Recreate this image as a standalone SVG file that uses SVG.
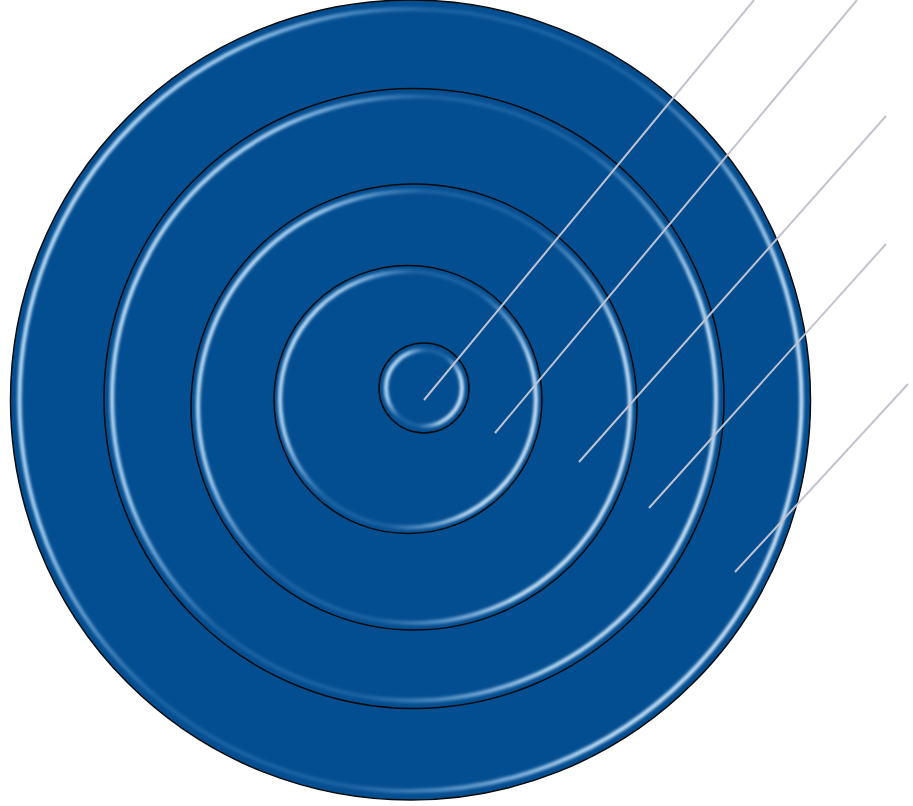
<svg xmlns="http://www.w3.org/2000/svg" width="913" height="806" viewBox="0 0 913 806">
<defs>
<style>
.disc{fill:#034e91;stroke:#0a0a0a;stroke-width:1.5}
.glow{fill:none;stroke:url(#hl);stroke-width:4;filter:url(#blur)}
.lead{stroke:#c2c3d0;stroke-width:2;fill:none}
</style>
<linearGradient id="hl" x1="0" y1="0.3" x2="1" y2="0.7">
<stop offset="0" stop-color="#cfeaff" stop-opacity="1"/>
<stop offset="0.15" stop-color="#bfe3ff" stop-opacity="0.9"/>
<stop offset="0.35" stop-color="#7fb8ec" stop-opacity="0.2"/>
<stop offset="0.6" stop-color="#7fb8ec" stop-opacity="0.2"/>
<stop offset="0.85" stop-color="#cfeaff" stop-opacity="0.95"/>
<stop offset="1" stop-color="#dff0ff" stop-opacity="1"/>
</linearGradient>
<filter id="blur" x="-10%" y="-10%" width="120%" height="120%"><feGaussianBlur stdDeviation="1.6"/></filter>
</defs>
<g id="ring1"><circle class="disc" cx="410.5" cy="400" r="400"/><circle class="glow" cx="410.5" cy="400" r="391"/></g>
<g id="ring2"><circle class="disc" cx="414" cy="398.5" r="310"/><circle class="glow" cx="414" cy="398.5" r="302"/></g>
<g id="ring3"><circle class="disc" cx="414" cy="407" r="223"/><circle class="glow" cx="414" cy="407" r="216"/></g>
<g id="ring4"><circle class="disc" cx="408" cy="399.5" r="134"/><circle class="glow" cx="408" cy="399.5" r="128"/></g>
<g id="ring5"><circle class="disc" cx="424" cy="388" r="45"/><circle class="glow" cx="424" cy="388" r="38"/></g>
<g id="connectors">
<line class="lead" x1="754" y1="0" x2="424" y2="400"/>
<line class="lead" x1="857" y1="0" x2="495" y2="433"/>
<line class="lead" x1="886" y1="116" x2="579" y2="462"/>
<line class="lead" x1="886" y1="244" x2="649" y2="508"/>
<line class="lead" x1="908" y1="384" x2="735" y2="572"/>
</g>
</svg>
